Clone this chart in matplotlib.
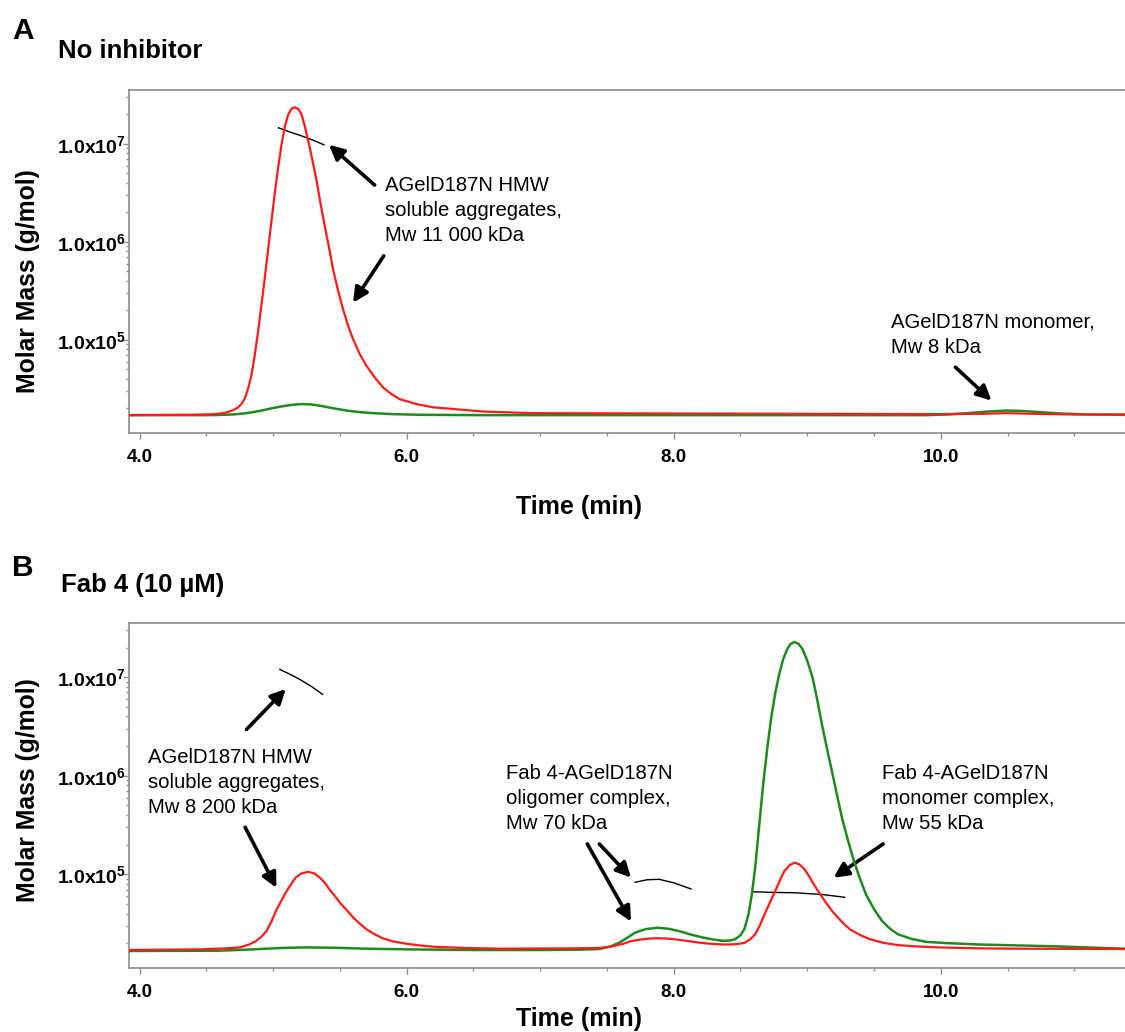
#SEC-MALS traces, panel A (no inhibitor) and panel B (Fab 4)
import matplotlib
matplotlib.use('Agg')
import matplotlib.pyplot as plt
from matplotlib.ticker import LogLocator, NullFormatter, MultipleLocator

plt.rcParams['font.family'] = ['Liberation Sans', 'DejaVu Sans']
plt.rcParams['mathtext.fontset'] = 'custom'
plt.rcParams['mathtext.rm'] = 'Liberation Sans'
plt.rcParams['mathtext.bf'] = 'Liberation Sans:bold'

# ---- panel A data ----
# red trace (light scattering, relative signal)
a_red_t = [3.92, 4.40, 4.574, 4.649, 4.699, 4.737, 4.762, 4.787, 4.811, 4.836, 4.861, 4.886, 4.911, 4.936,
           4.961, 4.986, 5.011, 5.036, 5.061, 5.086, 5.111, 5.136, 5.161, 5.186, 5.211, 5.236, 5.273, 5.323,
           5.353, 5.386, 5.418, 5.448, 5.486, 5.523, 5.561, 5.598, 5.648, 5.698, 5.760, 5.823, 5.885, 5.948,
           6.073, 6.198, 6.573, 6.947, 8.0, 9.0, 10.0, 10.3, 10.5, 10.7, 11.0, 11.38]
a_red_s = [0.0, 0.001, 0.003, 0.008, 0.015, 0.024, 0.034, 0.051, 0.080, 0.121, 0.182, 0.254, 0.336, 0.418,
           0.506, 0.593, 0.680, 0.757, 0.829, 0.885, 0.923, 0.942, 0.947, 0.942, 0.926, 0.890, 0.824, 0.726,
           0.654, 0.582, 0.516, 0.449, 0.383, 0.326, 0.275, 0.234, 0.188, 0.152, 0.116, 0.085, 0.065, 0.049,
           0.034, 0.024, 0.011, 0.006, 0.005, 0.004, 0.003, 0.004, 0.006, 0.004, 0.002, 0.002]
# green trace (refractive index, relative signal)
a_green_t = [3.92, 4.55, 4.70, 4.80, 4.90, 5.00, 5.08, 5.15, 5.21, 5.28, 5.35, 5.45, 5.55, 5.65, 5.75,
             5.90, 6.10, 6.5, 8.0, 9.9, 10.05, 10.2, 10.35, 10.49, 10.6, 10.75, 10.9, 11.1, 11.38]
a_green_s = [0.0, 0.0, 0.002, 0.006, 0.013, 0.022, 0.028, 0.032, 0.034, 0.033, 0.029, 0.021, 0.014, 0.009, 0.006,
             0.003, 0.001, 0.0, 0.0, 0.0, 0.002, 0.006, 0.011, 0.014, 0.013, 0.009, 0.005, 0.002, 0.001]
# molar mass (g/mol)
a_mm_t = [5.04, 5.12, 5.21, 5.30, 5.38]
a_mm = [1.46e7, 1.33e7, 1.21e7, 1.09e7, 0.98e7]

# ---- panel B data ----
b_red_t = [3.92, 4.45, 4.65, 4.75, 4.82, 4.87, 4.91, 4.95, 4.99, 5.02, 5.06, 5.10, 5.14, 5.17, 5.21,
           5.26, 5.31, 5.35, 5.39, 5.42, 5.46, 5.50, 5.55, 5.60, 5.65, 5.70, 5.76, 5.82, 5.90, 6.00,
           6.10, 6.20, 6.45, 6.70, 7.20, 7.45, 7.55, 7.62, 7.68, 7.75, 7.82, 7.88, 7.95, 8.02, 8.10,
           8.18, 8.28, 8.36, 8.43, 8.49, 8.53, 8.57, 8.61, 8.645, 8.68, 8.72, 8.76, 8.80, 8.83, 8.87,
           8.905, 8.94, 8.98, 9.015, 9.05, 9.095, 9.14, 9.185, 9.23, 9.275, 9.32, 9.40, 9.47, 9.57, 9.68,
           9.82, 9.98, 10.3, 10.58, 11.38]
b_red_s = [0.0, 0.002, 0.005, 0.008, 0.017, 0.027, 0.040, 0.058, 0.090, 0.119, 0.150, 0.180, 0.205, 0.222, 0.234,
           0.239, 0.234, 0.221, 0.204, 0.186, 0.166, 0.145, 0.122, 0.099, 0.080, 0.063, 0.048, 0.036, 0.026, 0.019,
           0.014, 0.010, 0.006, 0.004, 0.005, 0.006, 0.012, 0.019, 0.027, 0.032, 0.035, 0.036, 0.035, 0.032, 0.028,
           0.023, 0.019, 0.017, 0.017, 0.019, 0.022, 0.032, 0.048, 0.075, 0.109, 0.145, 0.18, 0.218, 0.242, 0.26,
           0.267, 0.262, 0.247, 0.225, 0.20, 0.172, 0.145, 0.12, 0.099, 0.08, 0.063, 0.045, 0.033, 0.022, 0.015,
           0.011, 0.008, 0.005, 0.004, 0.003]
b_green_t = [3.92, 4.6, 4.85, 5.05, 5.24, 5.45, 5.7, 6.0, 6.5, 7.0, 7.30, 7.44, 7.52, 7.59, 7.65,
             7.71, 7.79, 7.88, 7.96, 8.04, 8.13, 8.22, 8.30, 8.37, 8.42, 8.46, 8.50, 8.53, 8.56, 8.585,
             8.61, 8.64, 8.67, 8.70, 8.73, 8.76, 8.79, 8.82, 8.85, 8.875, 8.905, 8.935, 8.965, 9.00, 9.04,
             9.075, 9.11, 9.15, 9.19, 9.225, 9.26, 9.305, 9.35, 9.395, 9.44, 9.50, 9.56, 9.62, 9.68, 9.78,
             9.89, 10.05, 10.28, 10.58, 10.88, 11.15, 11.38]
b_green_s = [-0.003, -0.002, 0.002, 0.006, 0.008, 0.007, 0.004, 0.002, 0.0, 0.0, 0.001, 0.003, 0.010, 0.022, 0.037,
             0.053, 0.064, 0.068, 0.065, 0.058, 0.047, 0.038, 0.032, 0.028, 0.029, 0.033, 0.045, 0.065, 0.109, 0.17,
             0.252, 0.38, 0.507, 0.615, 0.71, 0.785, 0.843, 0.89, 0.92, 0.936, 0.942, 0.936, 0.92, 0.885, 0.833,
             0.765, 0.69, 0.612, 0.537, 0.47, 0.405, 0.335, 0.272, 0.218, 0.17, 0.125, 0.089, 0.065, 0.048, 0.034,
             0.025, 0.021, 0.017, 0.014, 0.011, 0.007, 0.004]
b_mm1_t = [5.05, 5.12, 5.20, 5.29, 5.37]
b_mm1 = [1.2e7, 1.08e7, 9.5e6, 8.0e6, 6.7e6]
b_mm2_t = [7.71, 7.80, 7.89, 8.00, 8.13]
b_mm2 = [8.3e4, 8.8e4, 8.9e4, 8.2e4, 7.1e4]
b_mm3_t = [8.59, 8.75, 8.905, 9.11, 9.28]
b_mm3 = [6.65e4, 6.55e4, 6.5e4, 6.24e4, 5.85e4]

xticks = [4, 6, 8, 10]
xticklabels = ['4.0', '6.0', '8.0', '10.0']
yticks = [1e5, 1e6, 1e7]
yticklabels = [r'$\mathbf{1.0x10^{5}}$', r'$\mathbf{1.0x10^{6}}$', r'$\mathbf{1.0x10^{7}}$']

RED = '#ff1a1a'
GREEN = '#1f8a1f'
GRAY = '#8c8c8c'

fig = plt.figure(figsize=(11.25, 10.32), dpi=100)
W, H = 1125.0, 1032.0


def setup(ax):
    ax.set_yscale('log')
    ax.set_xlim(3.92, 11.38)
    ax.set_ylim(1.12e4, 3.55e7)
    ax.set_xticks(xticks)
    ax.set_xticklabels(xticklabels, fontweight='bold', fontsize=13.5)
    ax.xaxis.set_minor_locator(MultipleLocator(0.5))
    ax.set_yticks(yticks)
    ax.set_yticklabels(yticklabels, fontsize=14)
    ax.yaxis.set_minor_locator(LogLocator(base=10, subs=range(2, 10)))
    ax.yaxis.set_minor_formatter(NullFormatter())
    ax.tick_params(axis='both', which='major', length=4, width=1, color=GRAY)
    ax.tick_params(axis='both', which='minor', length=2.5, width=1, color=GRAY)
    ax.tick_params(axis='x', which='major', pad=7.5)
    ax.tick_params(axis='y', which='major', pad=-2)
    ax.spines['right'].set_visible(False)
    for s in ['left', 'top', 'bottom']:
        ax.spines[s].set_color(GRAY)
        ax.spines[s].set_linewidth(1.2)
    ax2 = ax.twinx()
    ax2.set_ylim(-0.055, 1.0)
    ax2.axis('off')
    return ax2


def arrow(ax, tail, tip):
    ax.annotate('', xy=tip, xytext=tail,
                arrowprops=dict(arrowstyle='-|>', color='black', lw=2.6, mutation_scale=22,
                                shrinkA=0, shrinkB=0))


def label(ax, x, y, s):
    ax.text(x, y, s, fontsize=14.6, va='center', ha='left', linespacing=1.4)


# ---- panel A ----
axA = fig.add_axes([129 / W, 1 - 433 / H, 1 - 129 / W, 343 / H])
axA2 = setup(axA)
axA.plot(a_mm_t, a_mm, color='black', lw=1.0)
axA2.plot(a_green_t, a_green_s, color=GREEN, lw=1.8)
axA2.plot(a_red_t, a_red_s, color=RED, lw=1.6)

label(axA, 5.835, 2.07e6, 'AGelD187N HMW\nsoluble aggregates,\nMw 11 000 kDa')
arrow(axA, (5.76, 3.8e6), (5.418, 9.8e6))
arrow(axA, (5.828, 7.2e5), (5.598, 2.4e5))
label(axA, 9.63, 1.13e5, 'AGelD187N monomer,\nMw 8 kDa')
arrow(axA, (10.11, 5.26e4), (10.38, 2.4e4))

# ---- panel B ----
axB = fig.add_axes([129 / W, 1 - 968 / H, 1 - 129 / W, 345 / H])
axB2 = setup(axB)
axB.plot(b_mm1_t, b_mm1, color='black', lw=1.0)
axB.plot(b_mm2_t, b_mm2, color='black', lw=1.0)
axB.plot(b_mm3_t, b_mm3, color='black', lw=1.0)
axB2.plot(b_green_t, b_green_s, color=GREEN, lw=1.8)
axB2.plot(b_red_t, b_red_s, color=RED, lw=1.6)

label(axB, 4.062, 8.47e5, 'AGelD187N HMW\nsoluble aggregates,\nMw 8 200 kDa')
arrow(axB, (4.80, 2.95e6), (5.094, 7.6e6))
arrow(axB, (4.79, 3.0e5), (5.024, 7.3e4))
label(axB, 6.742, 5.88e5, 'Fab 4-AGelD187N\noligomer complex,\nMw 70 kDa')
arrow(axB, (7.353, 2.03e5), (7.68, 3.32e4))
arrow(axB, (7.443, 2.03e5), (7.68, 9.25e4))
label(axB, 9.562, 5.88e5, 'Fab 4-AGelD187N\nmonomer complex,\nMw 55 kDa')
arrow(axB, (9.568, 2.03e5), (9.198, 9.25e4))

# ---- titles and axis labels ----
fig.text(12 / W, 1 - 31 / H, 'A', fontsize=21.5, fontweight='bold', va='center', ha='left')
fig.text(58 / W, 1 - 51 / H, 'No inhibitor', fontsize=18.5, fontweight='bold', va='center', ha='left')
fig.text(12 / W, 1 - 568 / H, 'B', fontsize=21.5, fontweight='bold', va='center', ha='left')
fig.text(61 / W, 1 - 585 / H, 'Fab 4 (10 µM)', fontsize=18.5, fontweight='bold', va='center', ha='left')

fig.text(579 / W, 1 - 507 / H, 'Time (min)', fontsize=18, fontweight='bold', va='center', ha='center')
fig.text(579 / W, 1 - 1019 / H, 'Time (min)', fontsize=18, fontweight='bold', va='center', ha='center')
fig.text(28 / W, 1 - 281 / H, 'Molar Mass (g/mol)', fontsize=17.8, fontweight='bold', rotation=90,
         va='center', ha='center')
fig.text(28 / W, 1 - 790 / H, 'Molar Mass (g/mol)', fontsize=17.8, fontweight='bold', rotation=90,
         va='center', ha='center')

fig.savefig('out.png', dpi=100)
